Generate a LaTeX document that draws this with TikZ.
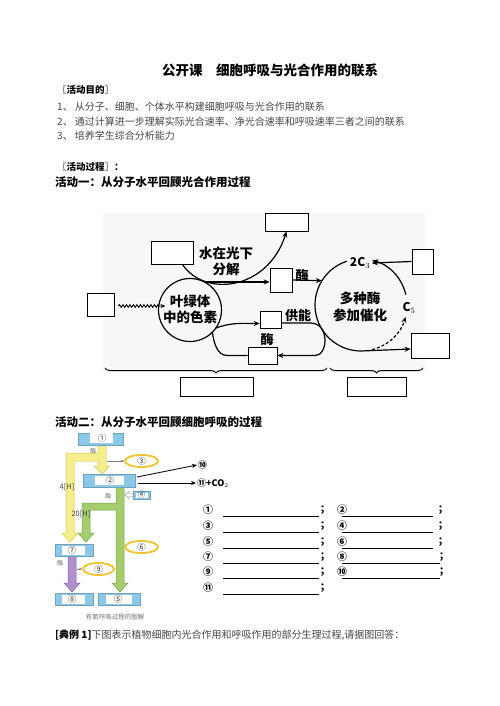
\documentclass[tikz,border=0pt]{standalone}
\usepackage{fontspec}
\setmainfont{Noto Sans CJK SC}
\usetikzlibrary{arrows.meta,decorations.pathmorphing,decorations.pathreplacing,calc,shapes.geometric}
\definecolor{rblue}{RGB}{140,200,232}
\definecolor{ryel}{RGB}{246,238,140}
\definecolor{ryeld}{RGB}{215,195,70}
\definecolor{rgrn}{RGB}{165,205,110}
\definecolor{rgrnd}{RGB}{120,165,75}
\definecolor{rpur}{RGB}{175,145,205}
\definecolor{rpurd}{RGB}{130,100,165}
\definecolor{eyel}{RGB}{238,195,45}
\definecolor{bodytxt}{RGB}{70,70,70}
\tikzset{
  txt/.style={inner sep=0, anchor=west, text=bodytxt, font=\fontsize{10}{12}\selectfont},
  hd/.style={inner sep=0, anchor=west, font=\fontsize{9.5}{11}\selectfont\bfseries},
  act/.style={inner sep=0, anchor=west, font=\fontsize{11.5}{13}\selectfont\bfseries},
  blank/.style={draw, line width=0.7pt, fill=white, inner sep=0},
  lab/.style={inner sep=0, align=center, font=\fontsize{13.5}{16}\selectfont\bfseries},
  labs/.style={inner sep=0, font=\fontsize{13}{15}\selectfont\bfseries},
  arr/.style={-{Stealth[length=6pt,width=5pt]}, line width=1.2pt},
  curve/.style={line width=1.2pt},
  rbox/.style={fill=rblue, draw=rblue!80!black, line width=0.3pt},
  rnum/.style={inner sep=0, text=black!80, font=\fontsize{8.5}{10}\selectfont},
  ell/.style={ellipse, fill=white, draw=eyel, line width=1.8pt, inner sep=0},
  enz/.style={inner sep=0, text=black!55, font=\fontsize{6}{7}\selectfont},
  ans/.style={inner sep=0, font=\fontsize{10}{12}\selectfont\bfseries},
  semi/.style={inner sep=0, anchor=west, font=\fontsize{10}{12}\selectfont\bfseries}
}
\begin{document}
\begin{tikzpicture}[x=1pt,y=1pt]
\useasboundingbox (0,0) rectangle (500,-706);
\fill[white] (0,0) rectangle (500,-706);

% ---------- header text ----------
\node[inner sep=0, font=\fontsize{13.5}{15}\selectfont\bfseries] (title) at (270,-70) {公开课\hspace{13.5pt}细胞呼吸与光合作用的联系};
\node[hd] (h1) at (57,-90) {〖活动目的〗};
\node[txt] (l1) at (57,-107) {1、 从分子、细胞、个体水平构建细胞呼吸与光合作用的联系};
\node[txt] (l2) at (57,-122) {2、 通过计算进一步理解实际光合速率、净光合速率和呼吸速率三者之间的联系};
\node[txt] (l3) at (57,-136) {3、 培养学生综合分析能力};
\node[hd] (h2) at (57,-167) {〖活动过程〗：};
\node[act] (a1t) at (55,-182) {活动一：从分子水平回顾光合作用过程};

% ---------- diagram 1 ----------
\fill[gray!6] (103,-213) rectangle (425,-373);
\node[blank, minimum width=43, minimum height=18] (B1) at (286.5,-222) {};
\node[blank, minimum width=42, minimum height=23] (B2) at (172,-252.5) {};
\node[blank, minimum width=27, minimum height=23] (B3) at (100.5,-304.5) {};
\node[blank, minimum width=22, minimum height=24] (B4) at (281,-280) {};
\node[blank, minimum width=21, minimum height=25] (B7) at (422.5,-261.5) {};
\node[blank, minimum width=21, minimum height=17] (B8) at (270.5,-319.5) {};
\node[blank, minimum width=29, minimum height=17] (B9) at (262.5,-355.5) {};
\node[blank, minimum width=38, minimum height=25] (B10) at (430,-345.5) {};
\node[blank, minimum width=73, minimum height=19] (B11) at (216.5,-386.5) {};
\node[blank, minimum width=59, minimum height=19] (B12) at (376.5,-386.5) {};

\node[circle, draw, line width=1.2pt, minimum size=63pt, inner sep=0, outer sep=0] (chl) at (190,-310) {};
\node[lab] (chlt) at (190,-309.5) {叶绿体\\中的色素};
\node[lab] (wt) at (226,-261) {水在光下\\分解};
\coordinate (bc) at (361,-305);
\coordinate (bigL) at ($(bc)+(148:46)$);
\node[lab, font=\fontsize{13.5}{17}\selectfont\bfseries] (bigt) at (360,-306.5) {多种酶\\参加催化};
\node[inner sep=1.5pt, font=\fontsize{12}{14}\selectfont\bfseries] (c2) at (360,-263) {2C$_3$};
\node[inner sep=1pt, font=\fontsize{12}{14}\selectfont\bfseries] (c5) at (409,-308) {C$_5$};
\node[labs] (e1) at (302,-275) {酶};
\node[labs] (e2) at (267,-339) {酶};
\node[labs] (gn) at (298,-316) {供能};

% big circle arcs
\draw[arr] ($(bc)+(108:46)$) arc[start angle=108, end angle=270, radius=46] -- ($(B10.west)+(0,-3.5)$);
\draw[arr, dashed, dash pattern=on 3pt off 2pt] ($(bc)+(-76:46)$) arc[start angle=-76, end angle=-15, radius=46];
\draw[arr] ($(bc)+(13:46)$) arc[start angle=13, end angle=76, radius=46];
\draw[arr] (B7.west) -- (c2.east);
\draw[arr] (B4.east) -- (bigL);

% water splitting arc
\draw[arr] ($(B2.south east)+(-11,0)$) .. controls (205,-298) and (268,-290) .. (B1.south);
\draw[arr] (chl.63) -- (chl.63 -| B4.west);

% light wave
\draw[line width=0.9pt, decorate, decoration={snake, amplitude=1.3pt, segment length=3.5pt, post length=6pt}, -{Stealth[length=5pt,width=4pt]}] ($(B3.east)+(4,-1.5)$) -- ($(chl.west)+(7,4)$);

% ATP loop
\draw[arr] (chl.-35) to[out=20,in=180] ($(B8.west)+(0,-4)$);
\draw[arr] ($(B8.east)+(0,-3.5)$) -- ++(29,0) .. controls (330,-323) and (328,-355.5) .. ($(B9.east)+(38,0)$) -- (B9.east);
\draw[curve] (B9.west) -- ++(-20,0) to[out=180,in=-80] (chl.-45);

% braces
\draw[line width=1pt, decorate, decoration={brace, amplitude=5pt}] (327,-368) -- (105,-368);
\draw[line width=1pt, decorate, decoration={brace, amplitude=5pt}] (423,-368) -- (330,-368);

% ---------- diagram 2 ----------
\node[act] (a2t) at (55,-422) {活动二：从分子水平回顾细胞呼吸的过程};

% bands
\filldraw[fill=ryel, draw=ryeld, line width=0.5pt] (98,-445) -- (106,-445) -- (106,-466) -- (109.5,-466) -- (102,-474) -- (94.5,-466) -- (98,-466) -- (98,-461) -- (74,-461) -- (74,-533) -- (78,-533) -- (70,-542) -- (62,-533) -- (66,-533) -- (66,-453) -- (98,-453) -- cycle;
\filldraw[fill=rgrn, draw=rgrnd, line width=0.5pt] (116,-487) -- (124,-487) -- (124,-583) -- (128,-583) -- (120,-592) -- (112,-583) -- (116,-583) -- (116,-510) -- (90,-510) -- (90,-533) -- (94,-533) -- (86,-542) -- (78,-533) -- (82,-533) -- (82,-503) -- (116,-503) -- cycle;
\filldraw[fill=rpur, draw=rpurd, line width=0.5pt] (68,-556) -- (76,-556) -- (76,-583) -- (80,-583) -- (72,-592) -- (64,-583) -- (68,-583) -- cycle;

% boxes
\draw[rbox] (78,-433) rectangle (123,-445);  \fill[white] (90,-433) rectangle (113,-443);
\draw[rbox] (83,-474) rectangle (135,-487);  \fill[white] (95,-476) rectangle (124,-485);
\draw[rbox] (133,-491) rectangle (150,-499); \fill[white] (135.5,-492.5) rectangle (147.5,-497.5);
\draw[rbox] (55,-544) rectangle (93,-556);   \fill[white] (62,-545.5) rectangle (85,-554.5);
\draw[rbox] (55,-593) rectangle (93,-605);   \fill[white] (62,-594.5) rectangle (85,-603.5);
\draw[rbox] (98,-593) rectangle (140,-605);  \fill[white] (106,-594.5) rectangle (132,-603.5);

\node[rnum] (n1) at (102,-438.5) {①};
\node[rnum] (n2) at (110,-480.5) {②};
\node[rnum, font=\fontsize{7.5}{9}\selectfont] (n4) at (141.5,-495) {④};
\node[rnum] (n7) at (72,-550) {⑦};
\node[rnum] (n8) at (72,-599) {⑧};
\node[rnum] (n5) at (118,-599) {⑤};

\node[ell, minimum width=33, minimum height=12] (e3) at (141.5,-461) {};
\node[rnum] at (e3) {③};
\node[ell, minimum width=33, minimum height=12] (e6) at (141.5,-547) {};
\node[rnum] at (e6) {⑥};
\node[ell, minimum width=31, minimum height=12] (e9) at (98.5,-569) {};
\node[rnum] at (e9) {⑨};

\draw[gray, line width=0.4pt, -{Stealth[length=3pt,width=2.5pt]}] (107,-461) -- (e3.west);
\draw[gray, line width=0.4pt, -{Stealth[length=3pt,width=2.5pt]}] (77,-569) -- (e9.west);
\filldraw[fill=white, draw=gray, line width=0.4pt] (133,-493.5) -- (129,-493.5) -- (129,-491.5) -- (125,-495) -- (129,-498.5) -- (129,-496.5) -- (133,-496.5) -- cycle;

\node[enz] at (93,-451) {酶};
\node[enz] at (108,-496) {酶};
\node[enz] at (60,-563) {酶};
\node[inner sep=0, text=black!75, font=\fontsize{7.5}{9}\selectfont] at (67,-487) {4[H]};
\node[inner sep=0, text=black!75, font=\fontsize{7.5}{9}\selectfont] at (81,-514) {20[H]};
\node[inner sep=0, text=black!55, font=\fontsize{6.5}{8}\selectfont] (cap) at (115,-617) {有氧呼吸过程的图解};

% products
\node[inner sep=1pt, anchor=west, font=\fontsize{9}{11}\selectfont\bfseries] (p10) at (197,-465) {⑩};
\node[inner sep=1pt, anchor=west, font=\fontsize{9}{11}\selectfont\bfseries] (p11) at (196,-483) {⑪+CO$_2$};
\draw[-{Stealth[length=5pt,width=4pt]}, line width=0.8pt] (137,-477) -- (p10.west);
\draw[-{Stealth[length=5pt,width=4pt]}, line width=0.8pt] (138,-483) -- (p11.west);

% answer blanks
\node[ans] (q1) at (208,-510) {①};  \draw[line width=0.6pt] (223,-516) -- (319,-516); \node[semi] at (320,-510) {；};
\node[ans] (q2) at (342,-510) {②};  \draw[line width=0.6pt] (342,-516) -- (433,-516); \node[semi] at (438,-510) {；};
\node[ans] (q3) at (208,-526) {③};  \draw[line width=0.6pt] (223,-532) -- (319,-532); \node[semi] at (320,-526) {；};
\node[ans] (q4) at (342,-526) {④};  \draw[line width=0.6pt] (342,-532) -- (433,-532); \node[semi] at (438,-526) {；};
\node[ans] (q5) at (208,-542) {⑤};  \draw[line width=0.6pt] (223,-548) -- (319,-548); \node[semi] at (320,-542) {；};
\node[ans] (q6) at (342,-542) {⑥};  \draw[line width=0.6pt] (342,-548) -- (433,-548); \node[semi] at (438,-542) {；};
\node[ans] (q7) at (208,-557) {⑦};  \draw[line width=0.6pt] (223,-563) -- (319,-563); \node[semi] at (320,-557) {；};
\node[ans] (q8) at (342,-557) {⑧};  \draw[line width=0.6pt] (342,-563) -- (440,-563); \node[semi] at (439,-557) {；};
\node[ans] (q9) at (208,-572) {⑨};  \draw[line width=0.6pt] (223,-578) -- (319,-578); \node[semi] at (320,-572) {；};
\node[ans] (q10) at (342,-572) {⑩}; \draw[line width=0.6pt] (342,-578) -- (440,-578); \node[semi] at (439,-572) {；};
\node[ans] (q11) at (208,-588) {⑪}; \draw[line width=0.6pt] (223,-594) -- (319,-594); \node[semi] at (320,-588) {；};

% ---------- example ----------
\node[txt] (ex) at (55,-635) {\textbf{\textcolor{black}{[典例 1]}}下图表示植物细胞内光合作用和呼吸作用的部分生理过程,请据图回答：};
\end{tikzpicture}
\end{document}
